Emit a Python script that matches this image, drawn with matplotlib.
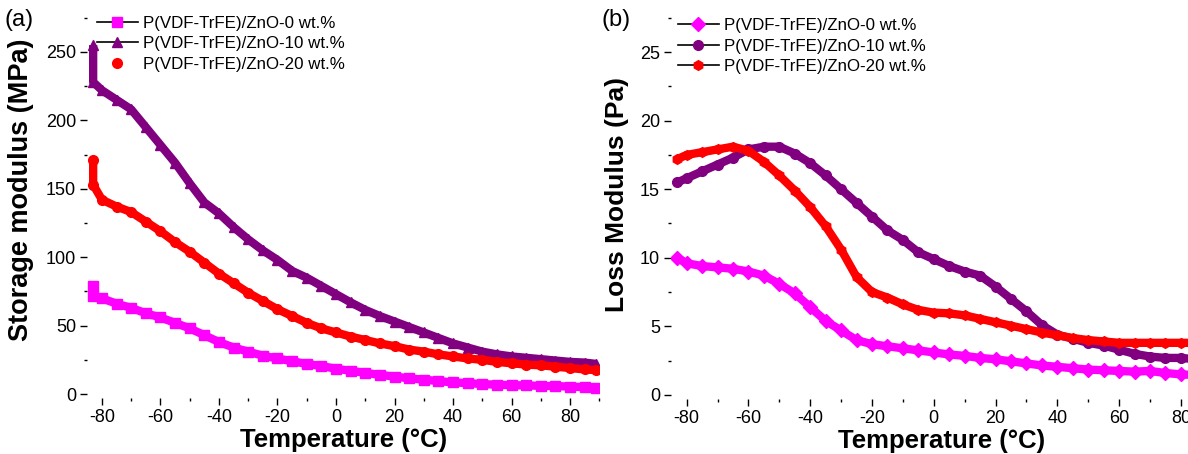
import matplotlib
matplotlib.use('Agg')
import matplotlib.pyplot as plt
from matplotlib.lines import Line2D
from matplotlib.ticker import MultipleLocator

plt.rcParams['font.family'] = ['Liberation Sans', 'DejaVu Sans']
plt.rcParams['axes.unicode_minus'] = False

labels = ['P(VDF-TrFE)/ZnO-0 wt.%', 'P(VDF-TrFE)/ZnO-10 wt.%', 'P(VDF-TrFE)/ZnO-20 wt.%']
colors = ['#FF00FF', '#800080', '#FF0000']

# (a) storage modulus, MPa
T_a = [-83, -83, -80, -75, -70, -65, -60, -55, -50, -45, -40, -35, -30, -25, -20, -15, -10, -5, 0,
       5, 10, 15, 20, 25, 30, 35, 40, 45, 50, 55, 60, 65, 70, 75, 80, 85, 89]
E_0 = [79, 72, 70, 66, 63, 59, 56, 52, 48, 43, 38, 34, 31, 28, 26, 24, 22, 20.5, 18.5,
       17, 15.5, 14, 12.8, 11.5, 10.5, 9.5, 8.5, 8, 7.3, 6.8, 6.5, 6.3, 6, 5.8, 5.5, 5, 4.5]
E_10 = [255, 228, 222, 215, 208, 195, 182, 169, 154, 140, 132, 122, 113, 105, 98, 90, 85, 79, 73,
        67, 61.5, 57, 53, 49, 45, 41, 37, 34, 31, 29, 27.5, 26.5, 25.5, 24.5, 23.5, 23, 22]
E_20 = [171, 153, 142, 137, 133, 126, 119, 111, 104, 96, 88, 81, 74, 68, 62, 57, 52, 48, 45,
        42, 39.5, 37, 35, 32.5, 31, 29, 27.5, 26, 25, 23.5, 22.5, 21.5, 21, 20, 19, 18, 17.5]

# (b) loss modulus
T_b = [-83, -80, -75, -70, -65, -60, -55, -50, -45, -40, -35, -30, -25, -20, -15, -10, -5, 0,
       5, 10, 15, 20, 25, 30, 35, 40, 45, 50, 55, 60, 65, 70, 75, 80, 85, 90]
L_0 = [10.0, 9.6, 9.4, 9.3, 9.2, 9.0, 8.7, 8.1, 7.4, 6.4, 5.4, 4.7, 4.0, 3.7, 3.55, 3.4, 3.25, 3.1,
       2.95, 2.85, 2.7, 2.6, 2.45, 2.3, 2.15, 2.05, 1.95, 1.85, 1.8, 1.75, 1.7, 1.75, 1.6, 1.5, 1.45, 1.4]
L_10 = [15.5, 15.8, 16.3, 16.8, 17.3, 17.9, 18.1, 18.1, 17.6, 16.9, 16.0, 15.0, 14.0, 13.0, 12.0, 11.3, 10.4, 9.9,
        9.4, 9.0, 8.7, 7.9, 7.0, 6.1, 5.1, 4.4, 4.1, 3.8, 3.6, 3.3, 3.0, 2.8, 2.7, 2.7, 2.6, 2.6]
L_20 = [17.2, 17.5, 17.7, 17.9, 18.1, 17.8, 17.0, 16.0, 14.9, 13.7, 12.3, 10.6, 8.6, 7.5, 7.1, 6.6, 6.2, 6.0,
        5.95, 5.8, 5.55, 5.3, 5.05, 4.8, 4.55, 4.35, 4.15, 4.0, 3.9, 3.8, 3.8, 3.8, 3.8, 3.8, 3.8, 3.8]

fig = plt.figure(figsize=(11.88, 4.54), dpi=100)
ax1 = fig.add_axes([0.0735, 0.123, 0.431, 0.853])
ax2 = fig.add_axes([0.565, 0.121, 0.455, 0.855])


def style(ax):
    for s in ax.spines.values():
        s.set_visible(False)
    ax.tick_params(which='major', direction='out', length=5, width=1, labelsize=13, pad=3)
    ax.tick_params(which='minor', direction='out', length=2, width=1)
    ax.xaxis.set_major_locator(MultipleLocator(20))
    ax.xaxis.set_minor_locator(MultipleLocator(10))
    ax.set_xlabel('Temperature (\u00b0C)', fontsize=18.5, fontweight='bold', labelpad=1)


mk_a = ['s', '^', 'o']
for y, c, m in zip([E_0, E_10, E_20], colors, mk_a):
    ax1.plot(T_a, y, color=c, lw=6, marker=m, ms=7, mec=c, solid_capstyle='butt')
ax1.set_xlim(-85, 90)
ax1.set_ylim(-3, 280)
ax1.yaxis.set_major_locator(MultipleLocator(50))
ax1.yaxis.set_minor_locator(MultipleLocator(25))
ax1.set_ylabel('Storage modulus (MPa)', fontsize=19.5, fontweight='bold')
ax1.yaxis.set_label_coords(-0.104, 0.537)
style(ax1)

mk_b = ['D', 'o', 'h']
for y, c, m in zip([L_0, L_10, L_20], colors, mk_b):
    ax2.plot(T_b, y, color=c, lw=6, marker=m, ms=7, mec=c, solid_capstyle='butt')
ax2.set_xlim(-85, 90)
ax2.set_ylim(-0.3, 28)
ax2.yaxis.set_major_locator(MultipleLocator(5))
ax2.yaxis.set_minor_locator(MultipleLocator(2.5))
ax2.set_ylabel('Loss Modulus (Pa)', fontsize=19, fontweight='bold')
ax2.yaxis.set_label_coords(-0.078, 0.528)
style(ax2)

# legends: black line with coloured symbol (Origin style)
h_a = [Line2D([], [], color='black', lw=1.2, marker='s', ms=7, mfc=colors[0], mec=colors[0]),
       Line2D([], [], color='black', lw=1.2, marker='^', ms=7, mfc=colors[1], mec=colors[1]),
       Line2D([], [], ls='none', marker='o', ms=7, mfc=colors[2], mec=colors[2])]
h_b = [Line2D([], [], color='black', lw=1.2, marker=m, ms=7, mfc=c, mec=c) for m, c in zip(mk_b, colors)]

for ax, h, anchor in [(ax1, h_a, (0.0816, 0.965)), (ax2, h_b, (0.5707, 0.960))]:
    ax.legend(h, labels, loc='upper left', bbox_to_anchor=anchor, bbox_transform=fig.transFigure,
              frameon=False, fontsize=12.2, handlelength=2.4, handletextpad=0.3,
              labelspacing=0.32, borderpad=0, borderaxespad=0)

fig.text(0.004, 0.955, '(a)', fontsize=17, va='center', ha='left')
fig.text(0.506, 0.955, '(b)', fontsize=17, va='center', ha='left')

fig.savefig('out.png', dpi=100)
